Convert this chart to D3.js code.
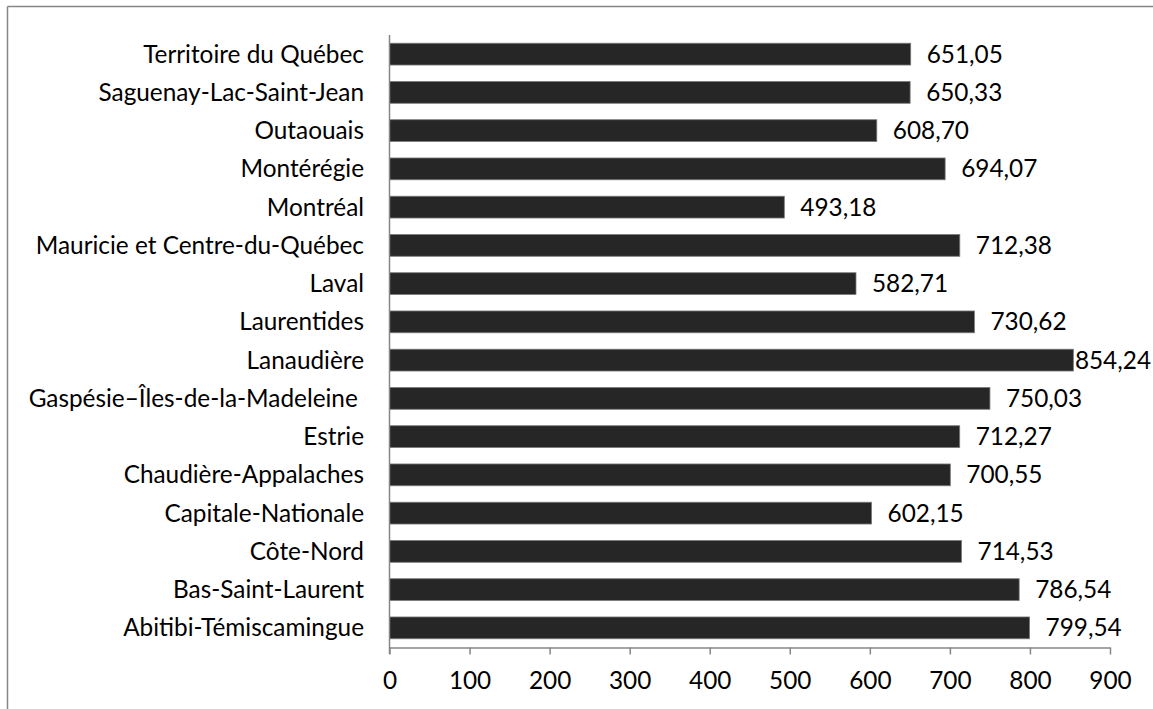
<!DOCTYPE html>
<html>
<head>
<meta charset="utf-8">
<script src="https://cdn.jsdelivr.net/npm/d3@7/dist/d3.min.js"></script>
<style>
  html, body { margin: 0; padding: 0; background: #fff; }
  svg { display: block; }
  text { font-family: Lato, "Open Sans", sans-serif; fill: #000; }
</style>
</head>
<body>
<svg id="chart" width="1153" height="709"></svg>
<script>
const categories = [
  "Territoire du Québec",
  "Saguenay-Lac-Saint-Jean",
  "Outaouais",
  "Montérégie",
  "Montréal",
  "Mauricie et Centre-du-Québec",
  "Laval",
  "Laurentides",
  "Lanaudière",
  "Gaspésie–Îles-de-la-Madeleine\u00a0",
  "Estrie",
  "Chaudière-Appalaches",
  "Capitale-Nationale",
  "Côte-Nord",
  "Bas-Saint-Laurent",
  "Abitibi-Témiscamingue"
];
const values = [651.05, 650.33, 608.70, 694.07, 493.18, 712.38, 582.71, 730.62,
                854.24, 750.03, 712.27, 700.55, 602.15, 714.53, 786.54, 799.54];
const xTicks = [0, 100, 200, 300, 400, 500, 600, 700, 800, 900];

const W = 1153, H = 709;
const svg = d3.select("#chart");
const gray = "#868686";

const probe = svg.append("text").attr("font-size", 26).text("Territoire du Québec");
const pw = probe.node().getComputedTextLength();
probe.remove();
const fs = 26 * 221 / pw;

svg.append("line").attr("x1", 7.5).attr("x2", W).attr("y1", 6.5).attr("y2", 6.5)
  .attr("stroke", gray).attr("stroke-width", 1.5);
svg.append("line").attr("x1", 7.5).attr("x2", 7.5).attr("y1", 6.5).attr("y2", H)
  .attr("stroke", gray).attr("stroke-width", 1.5);

const x = d3.scaleLinear().domain([0, 900]).range([389.5, 1110]);
const y = d3.scaleBand().domain(categories).range([35, 647]).paddingInner(0.43).paddingOuter(0.215);

svg.append("g").selectAll("rect").data(values).join("rect")
  .attr("x", x(0))
  .attr("y", (d, i) => y(categories[i]))
  .attr("width", d => x(d) - x(0))
  .attr("height", y.bandwidth())
  .attr("fill", "#262626")
  .attr("stroke", "#7a7a7a")
  .attr("stroke-width", 0.8);

const xAxis = svg.append("g").attr("transform", "translate(0,647.5)")
  .call(d3.axisBottom(x).tickValues(xTicks).tickSize(7).tickSizeOuter(0).tickPadding(17)
    .tickFormat(d3.format("d")));
xAxis.select(".domain").attr("stroke", gray).attr("stroke-width", 1.5);
xAxis.selectAll(".tick line").attr("stroke", gray).attr("stroke-width", 1.5);
xAxis.selectAll(".tick text").attr("font-size", fs).attr("font-family", "Lato, 'Open Sans', sans-serif").attr("fill", "#000");

svg.append("line").attr("x1", x(0)).attr("x2", x(0)).attr("y1", 35).attr("y2", 654)
  .attr("stroke", gray).attr("stroke-width", 1.5);

svg.append("g").selectAll("text").data(categories).join("text")
  .attr("x", 364)
  .attr("y", d => y(d) + y.bandwidth() / 2)
  .attr("dy", "0.35em")
  .attr("text-anchor", "end")
  .attr("font-size", fs)
  .style("white-space", "pre")
  .text(d => d);

const fmt = v => v.toFixed(2).replace(".", ",");
svg.append("g").selectAll("text").data(values).join("text")
  .attr("y", (d, i) => y(categories[i]) + y.bandwidth() / 2)
  .attr("dy", "0.35em")
  .attr("font-size", fs)
  .text(d => fmt(d))
  .each(function(d) {
    const w = this.getComputedTextLength();
    const xx = Math.min(x(d) + 16, W - 2 - w);
    d3.select(this).attr("x", xx);
  });
</script>
</body>
</html>
